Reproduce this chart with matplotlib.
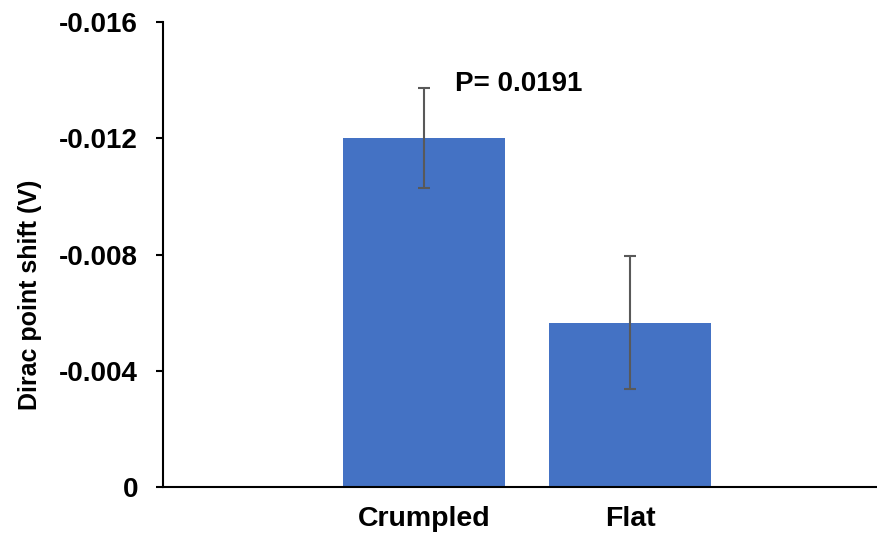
import matplotlib
matplotlib.use('Agg')
import matplotlib.pyplot as plt

plt.rcParams['font.family'] = ['Liberation Sans', 'DejaVu Sans']
plt.rcParams['font.weight'] = 'bold'

# data (V)
categories = ['Crumpled', 'Flat']
shift = [-0.0120, -0.00566]
err = [0.00172, 0.00229]
yticks = [0, -0.004, -0.008, -0.012, -0.016]
ytick_labels = ['0', '-0.004', '-0.008', '-0.012', '-0.016']
p_text = 'P= 0.0191'

fig = plt.figure(figsize=(8.77, 5.4), dpi=100)
ax = fig.add_axes([0.1859, 0.0981, 0.8141, 0.8612])

xpos = list(range(len(categories)))
ax.bar(xpos, shift, width=0.786, color='#4472C4', zorder=2)
ax.errorbar(xpos, shift, yerr=err, fmt='none', ecolor='#595959',
            elinewidth=1.5, capsize=4.5, capthick=1.5, zorder=3)

ax.set_xlim(-1.267, 2.199)
ax.set_ylim(0, -0.016)
ax.set_yticks(yticks)
ax.set_yticklabels(ytick_labels)
ax.set_xticks(xpos)
ax.set_xticklabels(categories)

ax.tick_params(axis='y', direction='out', length=5, width=1.5, labelsize=20, pad=13)
ax.tick_params(axis='x', length=0, labelsize=20.5, pad=14)
for s in ['top', 'right']:
    ax.spines[s].set_visible(False)
for s in ['left', 'bottom']:
    ax.spines[s].set_linewidth(1.5)
    ax.spines[s].set_color('black')

ax.set_ylabel('Dirac point shift (V)', fontsize=18, fontweight='bold')
ax.yaxis.set_label_coords(-0.1695, 0.413)
ax.text(0.15, -0.01387, p_text, fontsize=20, fontweight='bold', ha='left', va='center')

fig.savefig('out.png', dpi=100)
